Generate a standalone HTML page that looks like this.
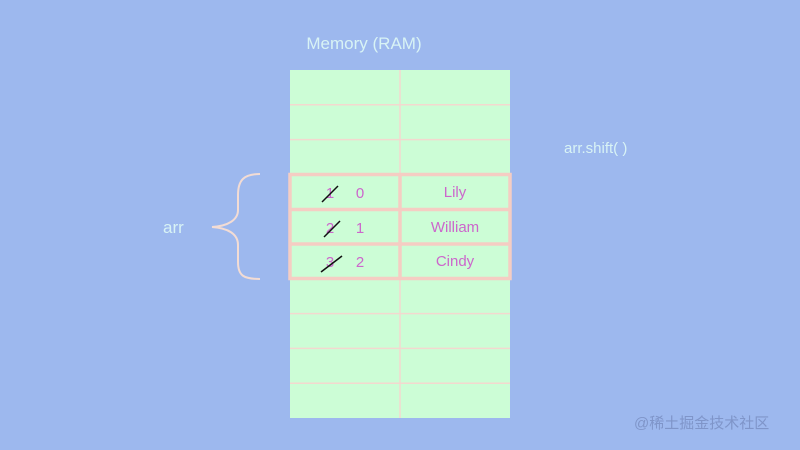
<!DOCTYPE html>
<html><head><meta charset="utf-8"><style>
html,body{margin:0;padding:0;background:#9db8ee;}
svg{display:block;}
</style></head><body>
<svg width="800" height="450" xmlns="http://www.w3.org/2000/svg">
<rect width="800" height="450" fill="#9db8ee"/>
<text x="364" y="49" font-family="Liberation Sans, sans-serif" font-size="17" fill="#d8f3f5" text-anchor="middle">Memory (RAM)</text>
<rect x="290" y="70" width="220" height="348" fill="#ccfdd6"/>
<g stroke="#f3d8cf" stroke-width="1.5">
<line x1="290" y1="104.8" x2="510" y2="104.8"/>
<line x1="290" y1="139.6" x2="510" y2="139.6"/>
<line x1="290" y1="313.6" x2="510" y2="313.6"/>
<line x1="290" y1="348.4" x2="510" y2="348.4"/>
<line x1="290" y1="383.2" x2="510" y2="383.2"/>
<line x1="400" y1="70" x2="400" y2="418"/>
</g>
<g stroke="#f5cdc3" stroke-width="3.5" fill="none">
<rect x="290" y="174.5" width="220" height="104"/>
<line x1="290" y1="209.5" x2="510" y2="209.5"/>
<line x1="290" y1="244" x2="510" y2="244"/>
<line x1="400" y1="174.5" x2="400" y2="278.5"/>
</g>
<g font-family="Liberation Sans, sans-serif" font-size="15" fill="#cc66cc" text-anchor="middle">
<text x="330" y="198">1</text><text x="360" y="198">0</text>
<text x="330" y="233">2</text><text x="360" y="233">1</text>
<text x="330" y="267">3</text><text x="360" y="267">2</text>
<text x="455" y="197">Lily</text>
<text x="455" y="232">William</text>
<text x="455" y="266">Cindy</text>
</g>
<g stroke="#111" stroke-width="1.5">
<line x1="322" y1="202" x2="338" y2="186"/>
<line x1="324" y1="237" x2="340" y2="221"/>
<line x1="321" y1="272" x2="342" y2="256"/>
</g>
<text x="163" y="233" font-family="Liberation Sans, sans-serif" font-size="17" fill="#d8f3f5">arr</text>
<path d="M260,174 C244,174 238,180 238,195 L238,210 C238,220 228,226 212,227 C228,228 238,234 238,245 L238,262 C238,276 244,279 260,279" stroke="#f3dcd4" stroke-width="2" fill="none"/>
<text x="564" y="153" font-family="Liberation Sans, sans-serif" font-size="15" fill="#d8f3f5">arr.shift( )</text>
<text x="634" y="428" font-family="Liberation Sans, 'Noto Sans CJK SC', sans-serif" font-size="15" fill="#7f95c9">@稀土掘金技术社区</text>
</svg>
</body></html>
